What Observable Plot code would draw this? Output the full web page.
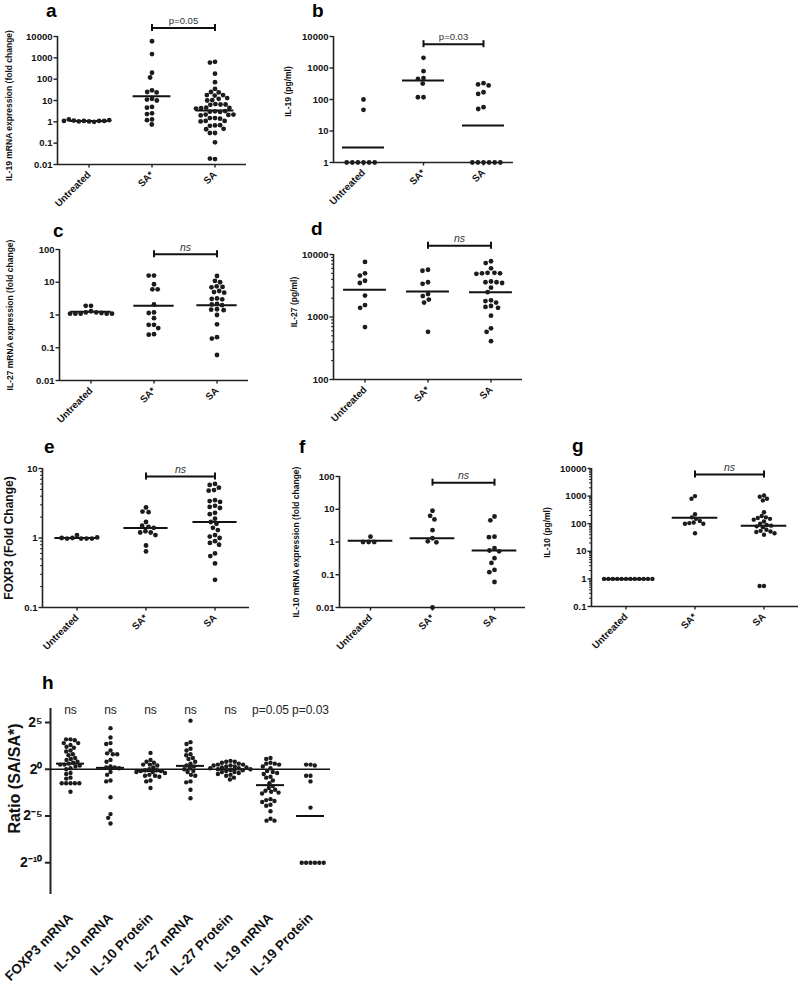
<!DOCTYPE html>
<html><head><meta charset="utf-8">
<script src="https://cdn.jsdelivr.net/npm/d3@7"></script>
<script src="https://cdn.jsdelivr.net/npm/@observablehq/plot@0.6"></script>
<style>
body{margin:0;background:#fff;}
#fig{position:relative;width:800px;height:984px;overflow:hidden;background:#fff;}
.lbl{position:absolute;font-family:"Liberation Sans",Arial,sans-serif;font-weight:700;font-size:19px;line-height:19px;color:#000;}
</style></head><body><div id="fig"></div>
<script>
// ---------- data ----------
const groups3 = ["Untreated", "SA*", "SA"];
const xDomain = [-0.5, 0.5];

// a: IL-19 mRNA expression (fold change)
const aUntreated = [1.05, 1.1, 1.0, 1.1, 1.05, 1.1, 1.15, 1.2, 1.3, 1.1];
const aSAstar = [6000, 1500, 200, 120, 30, 25, 24, 12, 11, 10, 5, 4.6, 2.5, 2.3, 1.3, 1.2, 0.75];
const aSA = [650, 600, 180, 72, 35, 25, 24, 18, 18, 17, 13, 12, 10.5, 10, 6.8, 6.5, 6.3, 6.5, 4.6, 4.4, 4.5, 4.2, 3.1, 3.0, 2.9, 3.2, 2.2, 2.1, 2.0, 2.2, 1.5, 1.5, 1.4, 1.1, 1.1, 1.05, 0.68, 0.65, 0.7, 0.47, 0.45, 0.3, 0.3, 0.11, 0.018, 0.019];
const aMedians = [1.1, 16, 3.4];
const aTicks = [0.01, 0.1, 1, 10, 100, 1000, 10000];

// b: IL-19 (pg/ml)
const bUntreated = [100, 47, 1, 1, 1, 1, 1, 1];
const bSAstar = [2100, 790, 480, 450, 320, 118, 118];
const bSA = [330, 300, 280, 170, 150, 57, 50, 1, 1, 1, 1, 1, 1];
const bMedians = [3, 400, 15];
const bTicks = [1, 10, 100, 1000, 10000];

// c: IL-27 mRNA expression (fold change)
const cUntreated = [1.9, 1.9, 1.3, 1.2, 1.2, 1.15, 1.1, 1.1, 1.1, 1.1, 1.1];
const cSAstar = [16, 16, 8.7, 6.1, 6.1, 2.1, 1.2, 1.15, 0.8, 0.5, 0.5, 0.4, 0.26, 0.25];
const cSA = [15.5, 11, 10, 7.5, 7.2, 7, 5.4, 5, 4.8, 3.2, 3.1, 3.0, 2.2, 2.1, 2.0, 1.5, 1.45, 1.4, 1.0, 0.52, 0.21, 0.19, 0.06];
const cMedians = [1.25, 1.9, 2.0];
const cTicks = [0.01, 0.1, 1, 10, 100];

// d: IL-27 (pg/ml)
const dUntreated = [7600, 5000, 4600, 3800, 3500, 2200, 1550, 1400, 690];
const dSAstar = [5700, 5500, 3600, 3400, 2330, 2160, 1900, 1700, 580];
const dSA = [7800, 7300, 6000, 5100, 5100, 5000, 5000, 4900, 3700, 3600, 3600, 3500, 2950, 2500, 1850, 1800, 1700, 1500, 1450, 1400, 1050, 660, 580, 410];
const dMedians = [2730, 2550, 2500];
const dTicks = [100, 1000, 10000];
const dMinor = [200, 300, 400, 500, 600, 700, 800, 900, 2000, 3000, 4000, 5000, 6000, 7000, 8000, 9000];

// e: FOXP3 (Fold Change)
const eUntreated = [1.1, 1.0, 0.98, 0.98, 0.98, 0.98, 1.0, 1.02];
const eSAstar = [2.75, 2.4, 2.35, 1.7, 1.5, 1.45, 1.4, 1.25, 1.2, 1.2, 1.1, 0.78, 0.64];
const eSA = [6, 5.8, 5.3, 4.9, 4.8, 3.5, 3.4, 3.3, 2.9, 2.8, 2.7, 2.3, 2.2, 1.9, 1.7, 1.6, 1.4, 1.3, 1.1, 1.05, 1.0, 0.9, 0.85, 0.8, 0.6, 0.55, 0.43, 0.25];
const eMedians = [1.0, 1.39, 1.7];
const eTicks = [0.1, 1, 10];
const eMinor = [0.2, 0.3, 0.4, 0.5, 0.6, 0.7, 0.8, 0.9, 2, 3, 4, 5, 6, 7, 8, 9];

// f: IL-10 mRNA expression (fold change)
const fUntreated = [1.45, 1.0, 1.0, 1.0];
const fSAstar = [9, 6.3, 4.9, 2.3, 1.3, 1.05, 0.98, 0.01];
const fSA = [6, 4.6, 1.45, 1.4, 0.65, 0.55, 0.52, 0.32, 0.23, 0.14, 0.12, 0.06];
const fMedians = [1.1, 1.3, 0.55];
const fTicks = [0.01, 0.1, 1, 10, 100];

// g: IL-10 (pg/ml)
const gUntreated = [1, 1, 1, 1, 1, 1, 1, 1, 1, 1, 1, 1];
const gSAstar = [1000, 800, 220, 170, 150, 125, 110, 105, 100, 100, 45];
const gSA = [1050, 950, 800, 700, 260, 190, 170, 160, 150, 140, 120, 100, 90, 85, 80, 75, 60, 55, 52, 50, 45, 40, 0.55, 0.55];
const gMedians = [1, 166, 85];
const gTicks = [0.1, 1, 10, 100, 1000, 10000];
const gMinor = [0.2,0.3,0.4,0.5,0.6,0.7,0.8,0.9,2,3,4,5,6,7,8,9,20,30,40,50,60,70,80,90,200,300,400,500,600,700,800,900,2000,3000,4000,5000,6000,7000,8000,9000];

// h: Ratio (SA/SA*), log2 exponents
const hGroups = ["FOXP3 mRNA", "IL-10 mRNA", "IL-10 Protein", "IL-27 mRNA", "IL-27 Protein", "IL-19 mRNA", "IL-19 Protein"];
const hFOXP3mRNA = [3.2, 3.2, 3.1, 2.8, 2.8, 2.6, 2.4, 2.3, 2.0, 1.9, 1.6, 1.5, 1.2, 1.1, 1.0, 0.8, 0.7, 0.6, 0.5, 0.5, 0.4, 0.3, 0.1, 0.0, -0.4, -0.5, -0.9, -1.0, -1.5, -1.5, -1.5, -1.5, -1.5, -2.4];
const hIL10mRNA = [4.4, 3.4, 2.8, 2.7, 2.0, 1.7, 1.6, 1.6, 1.0, 0.8, 0.3, 0.2, 0.2, 0.1, -0.3, -0.6, -1.2, -1.3, -3.0, -4.8, -5.2, -5.8];
const hIL10Protein = [1.75, 1.0, 0.8, 0.7, 0.5, 0.5, 0.4, 0.2, 0.0, -0.1, -0.1, -0.2, -0.2, -0.3, -0.3, -0.4, -0.6, -0.7, -0.7, -0.8, -1.2, -1.3, -2.0];
const hIL27mRNA = [5.2, 2.9, 2.7, 2.2, 2.0, 1.6, 1.5, 1.2, 1.1, 0.8, 0.6, 0.4, 0.3, 0.1, 0.0, -0.2, -0.3, -0.6, -0.7, -1.3, -1.4, -2.2, -3.1];
const hIL27Protein = [0.9, 0.8, 0.8, 0.7, 0.6, 0.5, 0.5, 0.4, 0.4, 0.3, 0.3, 0.2, 0.2, 0.1, 0.1, 0.0, 0.0, -0.1, -0.1, -0.2, -0.3, -0.3, -0.4, -0.5, -0.6, -0.7, -0.9, -1.1];
const hIL19mRNA = [1.2, 1.1, 0.7, 0.6, 0.6, 0.5, 0.3, 0.1, -0.2, -0.3, -0.4, -0.5, -0.8, -0.9, -1.2, -1.5, -1.8, -2.0, -2.2, -2.3, -2.4, -2.5, -2.6, -3.2, -3.3, -3.4, -3.5, -3.8, -3.9, -4.5, -5.3, -5.5, -5.5];
const hIL19Protein = [0.5, 0.5, 0.4, -0.7, -0.7, -1.3, -4.1, -10, -10, -10, -10, -10, -10];
const hMedians = [0.6, 0.15, -0.2, 0.36, 0.0, -1.7, -5];
const hNotes = ["ns", "ns", "ns", "ns", "ns", "p=0.05", "p=0.03"];
const hTickExps = [5, 0, -5, -10];
const hTickLabels = ["2\u2075", "2\u2070", "2\u207B\u2075", "2\u207B\u00B9\u2070"];
const hDomain = [-13.4, 6.5];

// ---------- drawing ----------
const fig = document.getElementById("fig");
const STYLE = "background:transparent;overflow:visible;font-family:'Liberation Sans',Arial,sans-serif;color:#111;";
function place(svg, sx, sy) {
  svg.style.position = "absolute";
  svg.style.left = sx + "px";
  svg.style.top = sy + "px";
  fig.appendChild(svg);
}
function letter(t, x, y) {
  const d = document.createElement("div");
  d.className = "lbl"; d.textContent = t;
  d.style.left = x + "px"; d.style.top = y + "px";
  fig.appendChild(d);
}

function logPanel(c) {
  const pts = c.groups.flatMap((g, i) => c.values[i].map(v => ({g, v})));
  const meds = c.groups.map((g, i) => ({g, m: c.medians[i]}));
  const first = [{g: c.groups[0]}];
  const all = c.groups.map(g => ({g}));
  const br = [{g: c.groups[1], v: c.bracket, t: c.note}];
  const [lo, hi] = c.domain;
  const svg = Plot.plot({
    width: c.w, height: c.h,
    marginLeft: c.x0 - c.sx, marginRight: c.sx + c.w - c.x1,
    marginTop: c.y0 - c.sy, marginBottom: c.sy + c.h - c.y1,
    style: STYLE,
    fx: {domain: c.groups, padding: 0},
    x: {domain: xDomain, axis: null},
    y: {type: "log", domain: c.domain},
    marks: [
      Plot.ruleY(all, {fx: "g", y: () => lo, stroke: "#222", strokeWidth: 1.6}),
      Plot.ruleX(first, {fx: "g", x: () => xDomain[0], y1: () => lo, y2: () => hi, stroke: "#222", strokeWidth: 1.6}),
      c.minor ? Plot.axisY(c.minor, {tickSize: 2, tickFormat: () => "", stroke: "#222", strokeWidth: 1}) : null,
      Plot.axisY(c.ticks, {tickSize: 3.5, tickPadding: 1.5, tickFormat: d => String(d), fontSize: 9.5, fontWeight: "bold", stroke: "#222", strokeWidth: 1.4}),
      Plot.axisFx({anchor: "bottom", tickSize: 3.5, tickPadding: 5, tickRotate: -45, fontSize: 9.8, fontWeight: "bold", label: null, stroke: "#222", strokeWidth: 1.4}),
      Plot.text(first, {fx: "g", frameAnchor: "left", textAnchor: "middle", text: () => c.title, rotate: -90, dx: c.tdx, dy: c.tdy, fontSize: c.tsize || 8.5, fontWeight: "bold"}),
      Plot.ruleY(meds, {fx: "g", y: "m", x1: () => -c.hw, x2: () => c.hw, stroke: "#111", strokeWidth: 2}),
      Plot.dot(pts, Plot.dodgeX({anchor: "middle", padding: c.pad}, {fx: "g", y: "v", r: c.r || 2.4, fill: "#1c1c1c"})),
      Plot.ruleY(br, {fx: "g", y: "v", x1: () => 0, x2: () => 1, stroke: "#111", strokeWidth: 2}),
      Plot.ruleX([0, 1].map(x => ({...br[0], x})), {fx: "g", x: "x", y1: "v", y2: "v", insetTop: -3.5, insetBottom: -3.5, stroke: "#111", strokeWidth: 2}),
      Plot.text(br, {fx: "g", x: () => 0.5, y: "v", text: "t", dy: -7, fontSize: c.italic ? 10.5 : 9.5, fontWeight: "normal", fontStyle: c.italic ? "italic" : "normal", fill: "#333"})
    ]
  });
  place(svg, c.sx, c.sy);
}

logPanel({groups: groups3, values: [aUntreated, aSAstar, aSA], medians: aMedians, ticks: aTicks,
  sx: 0, sy: 0, w: 262, h: 215, x0: 57, x1: 246, y0: 36, y1: 164, domain: [0.01, 10000],
  title: "IL-19 mRNA expression (fold change)", tdx: -48, tdy: 5, hw: 0.3, pad: 0.3, bracket: 25000, note: "p=0.05", italic: false});
logPanel({groups: groups3, values: [bUntreated, bSAstar, bSA], medians: bMedians, ticks: bTicks,
  sx: 275, sy: 0, w: 255, h: 215, x0: 332, x1: 514, y0: 36, y1: 162, domain: [1, 10000],
  title: "IL-19 (pg/ml)", tdx: -45, tdy: -8, hw: 0.35, pad: 0.8, bracket: 5700, note: "p=0.03", italic: false});
logPanel({groups: groups3, values: [cUntreated, cSAstar, cSA], medians: cMedians, ticks: cTicks,
  sx: 0, sy: 215, w: 262, h: 235, x0: 59, x1: 248, y0: 249, y1: 380, domain: [0.01, 100],
  title: "IL-27 mRNA expression (fold change)", tdx: -49, tdy: 0, hw: 0.32, pad: 0.5, bracket: 72, note: "ns", italic: true});
logPanel({groups: groups3, values: [dUntreated, dSAstar, dSA], medians: dMedians, ticks: dTicks, minor: dMinor,
  sx: 275, sy: 215, w: 255, h: 235, x0: 332, x1: 522, y0: 254, y1: 379, domain: [100, 10000],
  title: "IL-27 (pg/ml)", tdx: -39, tdy: -15, hw: 0.34, pad: 0.8, bracket: 13800, note: "ns", italic: true});
logPanel({groups: groups3, values: [eUntreated, eSAstar, eSA], medians: eMedians, ticks: eTicks, minor: eMinor,
  sx: 0, sy: 440, w: 262, h: 210, x0: 41, x1: 250, y0: 468, y1: 607, domain: [0.1, 10],
  title: "FOXP3 (Fold Change)", tsize: 12, tdx: -33, tdy: 0, hw: 0.32, pad: 0.6, bracket: 7.7, note: "ns", italic: true});
logPanel({groups: groups3, values: [fUntreated, fSAstar, fSA], medians: fMedians, ticks: fTicks,
  sx: 270, sy: 440, w: 265, h: 210, x0: 338, x1: 526, y0: 476, y1: 607, domain: [0.01, 100],
  title: "IL-10 mRNA expression (fold change)", tdx: -43, tdy: 0, hw: 0.36, pad: 0.8, bracket: 65, note: "ns", italic: true});
logPanel({groups: groups3, values: [gUntreated, gSAstar, gSA], medians: gMedians, ticks: gTicks, minor: gMinor,
  sx: 535, sy: 440, w: 265, h: 210, x0: 590, x1: 798, y0: 468, y1: 606, domain: [0.1, 10000],
  title: "IL-10 (pg/ml)", tdx: -44, tdy: -5, hw: 0.33, pad: 0, r: 2.2, bracket: 6000, note: "ns", italic: true});

// h panel
(function () {
  const hValues = [hFOXP3mRNA, hIL10mRNA, hIL10Protein, hIL27mRNA, hIL27Protein, hIL19mRNA, hIL19Protein];
  const pts = hGroups.flatMap((g, i) => hValues[i].map(v => ({g, v})));
  const meds = hGroups.map((g, i) => ({g, m: hMedians[i]}));
  const notes = hGroups.map((g, i) => ({g, t: hNotes[i]}));
  const first = [{g: hGroups[0]}];
  const all = hGroups.map(g => ({g}));
  const sx = 0, sy = 660, w = 360, h = 324;
  const svg = Plot.plot({
    width: w, height: h,
    marginLeft: 50, marginRight: 30, marginTop: 708 - sy, marginBottom: sy + h - 894,
    style: STYLE,
    fx: {domain: hGroups, padding: 0},
    x: {domain: xDomain, axis: null},
    y: {domain: hDomain},
    marks: [
      Plot.ruleX(first, {fx: "g", x: () => xDomain[0], y1: () => hDomain[0], y2: () => hDomain[1], stroke: "#222", strokeWidth: 2}),
      Plot.ruleY(all, {fx: "g", y: () => 0, stroke: "#111", strokeWidth: 1.6}),
      Plot.axisY(hTickExps, {tickSize: 5, tickPadding: 3, tickFormat: d => hTickLabels[hTickExps.indexOf(d)], fontSize: 14, fontWeight: "bold", stroke: "#222", strokeWidth: 2}),
      Plot.axisFx({anchor: "bottom", tickSize: 0, tickPadding: 21, tickRotate: -45, fontSize: 13.5, fontWeight: "bold", label: null}),
      Plot.text(first, {fx: "g", frameAnchor: "left", textAnchor: "middle", text: () => "Ratio (SA/SA*)", rotate: -90, dx: -36, dy: -23, fontSize: 16, fontWeight: "bold"}),
      Plot.text(notes, {fx: "g", frameAnchor: "top", text: "t", dy: -3, fontSize: 12, fontWeight: "normal", fill: "#222"}),
      Plot.ruleY(meds, {fx: "g", y: "m", x1: () => -0.35, x2: () => 0.35, stroke: "#111", strokeWidth: 2}),
      Plot.dot(pts, Plot.dodgeX({anchor: "middle", padding: 0}, {fx: "g", y: "v", r: 2.2, fill: "#1c1c1c"}))
    ]
  });
  place(svg, sx, sy);
})();

// panel letters
letter("a", 46, 1);
letter("b", 312, 1);
letter("c", 53, 221);
letter("d", 311, 219);
letter("e", 44, 437);
letter("f", 299, 437);
letter("g", 572, 436);
letter("h", 42, 673);
</script></body></html>
